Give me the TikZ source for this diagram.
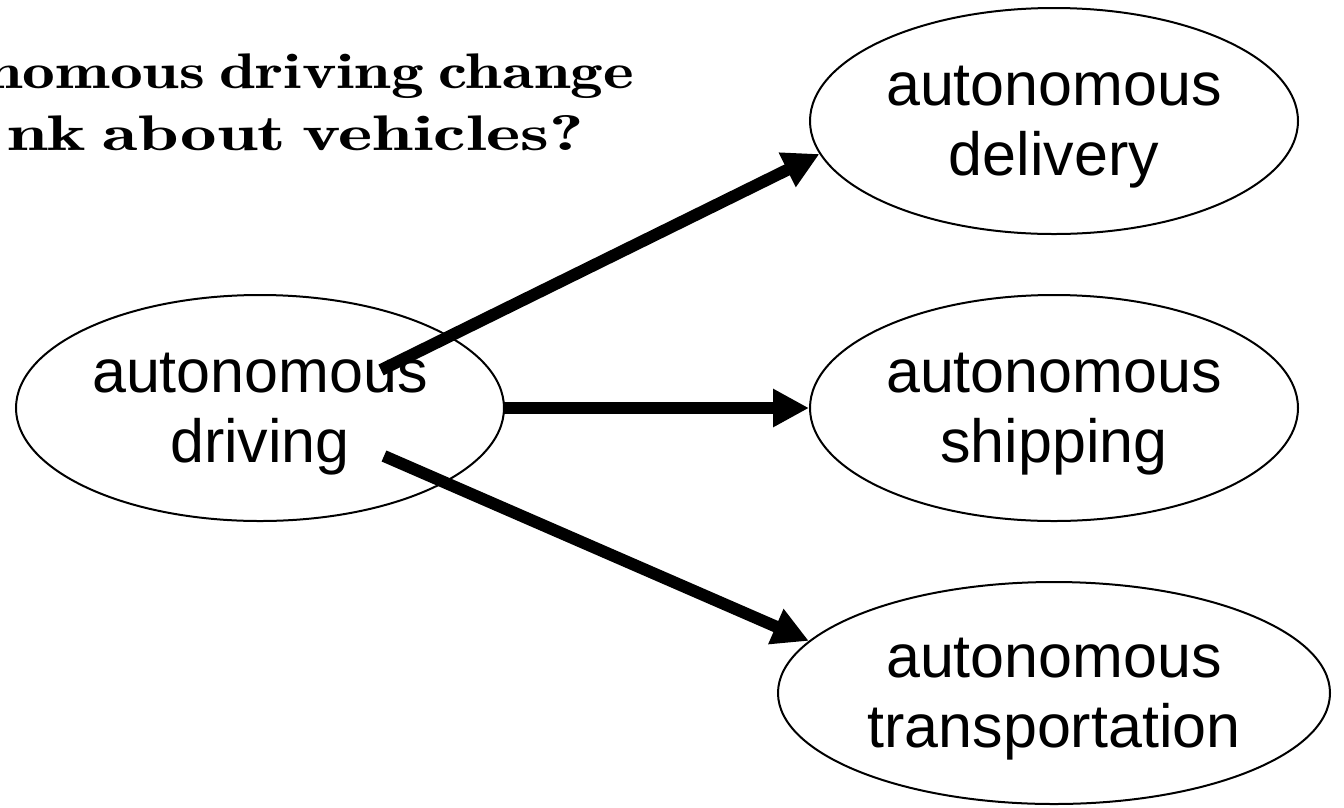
\documentclass[tikz,border=0pt]{standalone}
\usepackage{fontspec}
\setmainfont{Liberation Sans}
\usetikzlibrary{shapes.geometric,arrows.meta}
\newcommand{\titlefont}{\fontfamily{lmr}\bfseries\fontsize{50}{62}\selectfont\spaceskip=11pt plus 2pt minus 2pt\relax}
\newcommand{\wide}[2]{\scalebox{#1}[1]{#2}}
\tikzset{
  oval/.style={ellipse, draw, line width=2pt, inner sep=0pt, minimum width=488pt, minimum height=226pt,
    align=center, text height=122pt, text depth=14pt, font=\fontsize{61}{70}\selectfont},
  bigarrow/.style={line width=12pt, -{Triangle[length=36pt,width=36pt]}},
  ttl/.style={anchor=base east, inner sep=0pt, font=\titlefont}
}
\begin{document}
\begin{tikzpicture}[x=1pt,y=-1pt]
\useasboundingbox (0,0) rectangle (1344,807);
\node[ttl] (t1) at (634,88) {\wide{1.31}{nomous driving change}};
\node[ttl] (t2) at (584,150) {\wide{1.46}{nk about vehicles?}};
\node[oval] (drive) at (260,408) {autonomous\\driving};
\node[oval] (deliv) at (1054,121) {autonomous\\delivery};
\node[oval] (ship) at (1054,408) {autonomous\\shipping};
\node[oval, minimum width=552pt, minimum height=222pt] (trans) at (1054,693) {autonomous\\transportation};
\coordinate (s1) at (381,370);
\coordinate (s2) at (503,408);
\coordinate (s3) at (384,456);
\draw[bigarrow] (s1) -- (deliv.188);
\draw[bigarrow] (s2) -- (ship.west);
\draw[bigarrow] (s3) -- (trans.168);
\end{tikzpicture}
\end{document}
